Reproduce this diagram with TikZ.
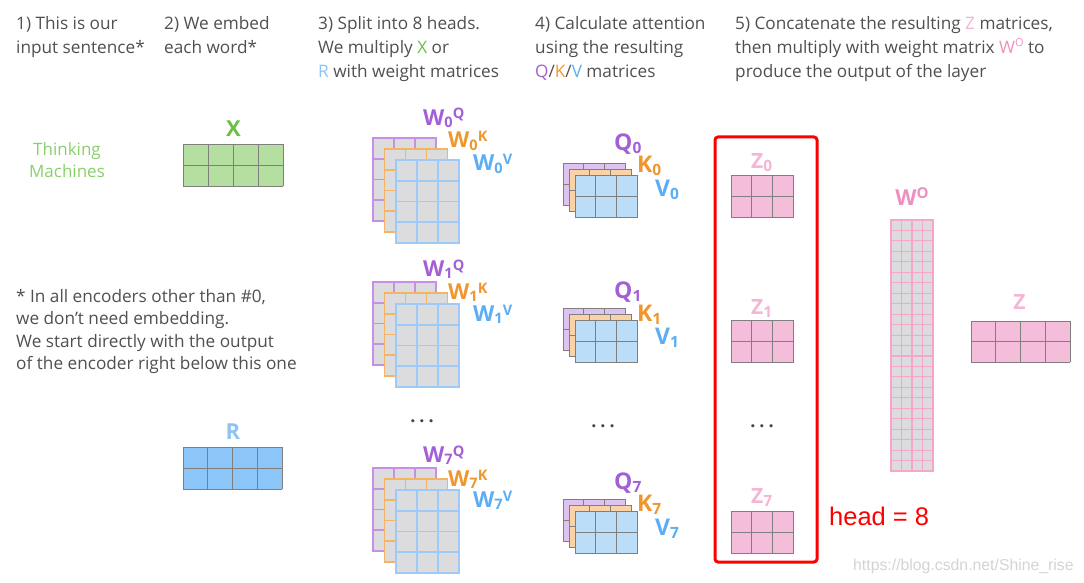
\documentclass[tikz,border=0pt]{standalone}
\usepackage{fontspec}
\setmainfont{Open Sans}
\newfontfamily\libsans{Liberation Sans}
\definecolor{hdrgray}{HTML}{505050}
\definecolor{xgreen}{HTML}{6CBE45}
\definecolor{xfill}{HTML}{B4DFA0}
\definecolor{tgreen}{HTML}{8ACF6C}
\definecolor{rblue}{HTML}{8DC3F5}
\definecolor{rfill}{HTML}{8CC5F7}
\definecolor{wgray}{HTML}{DCDCDE}
\definecolor{wpurple}{HTML}{C790E6}
\definecolor{worange}{HTML}{F5B463}
\definecolor{wblue}{HTML}{9DCBF7}
\definecolor{lpurple}{HTML}{A55FD6}
\definecolor{lorange}{HTML}{F0962E}
\definecolor{lblue}{HTML}{5BAEF5}
\definecolor{qpurple}{HTML}{DDC3F0}
\definecolor{qorange}{HTML}{FBD2A5}
\definecolor{qblue}{HTML}{BCDDF8}
\definecolor{gridgray}{HTML}{7F7F7F}
\definecolor{zfill}{HTML}{F4BEDB}
\definecolor{zlab}{HTML}{F5B5D5}
\definecolor{wolab}{HTML}{EE8FC0}
\definecolor{wopink}{HTML}{F4A6CB}
\definecolor{wmark}{HTML}{D4D4D4}
\definecolor{dotgray}{HTML}{444444}
% x y cols rows cellw cellh fill linecolor linewidth
\newcommand\mtx[9]{%
  \fill[#7] (#1,#2) rectangle ({#1+#3*#5},{#2+#4*#6});
  \foreach \ii in {0,...,#3}{\draw[#8,line width=#9,line cap=rect] ({#1+\ii*#5},#2) -- ({#1+\ii*#5},{#2+#4*#6});}
  \foreach \jj in {0,...,#4}{\draw[#8,line width=#9,line cap=rect] (#1,{#2+\jj*#6}) -- ({#1+#3*#5},{#2+\jj*#6});}
}
\newcommand\wstack[1]{%
  \mtx{373}{138+#1}{3}{4}{21}{20.75}{wgray}{wpurple}{1.8}
  \mtx{384.5}{149+#1}{3}{4}{21}{20.75}{wgray}{worange}{1.8}
  \mtx{396}{160+#1}{3}{4}{21}{20.75}{wgray}{wblue}{1.8}
}
\newcommand\qstack[1]{%
  \mtx{563}{163+#1}{3}{2}{20.7}{21}{qpurple}{gridgray}{0.9}
  \mtx{569}{169+#1}{3}{2}{20.7}{21}{qorange}{gridgray}{0.9}
  \mtx{575}{175+#1}{3}{2}{20.7}{21}{qblue}{gridgray}{0.9}
}
\newcommand\wsub[3]{#1\raisebox{-2pt}{\fontsize{14.5}{14.5}\selectfont #2}\raisebox{6pt}{\fontsize{14.5}{14.5}\selectfont #3}}
\newcommand\qsub[2]{#1\raisebox{-3.5pt}{\fontsize{15.5}{15.5}\selectfont #2}}
\begin{document}
\begin{tikzpicture}[x=1pt,y=-1pt,
  hdr/.style={anchor=base west,inner sep=0,font={\fontsize{17.2}{17.2}\selectfont},text=hdrgray},
  lbl/.style={anchor=base west,inner sep=0,font={\fontsize{22}{22}\selectfont\bfseries}},
  qlbl/.style={anchor=base west,inner sep=0,font={\fontsize{23}{23}\selectfont\bfseries}},
  dots/.style={inner sep=0,font={\fontsize{18}{18}\selectfont\bfseries},text=dotgray}]
\useasboundingbox (0,0) rectangle (1084,583);
\fill[white] (0,0) rectangle (1084,583);

% headers
\node[hdr] (h1a) at (16,29.5) {1) This is our};
\node[hdr] (h1b) at (16,53.5) {input sentence*};
\node[hdr] (h2a) at (164,29.5) {2) We embed};
\node[hdr] (h2b) at (164,53.5) {each word*};
\node[hdr] (h3a) at (318,29.5) {3) Split into 8 heads.};
\node[hdr] (h3b) at (318,53.5) {We multiply {\color{xgreen}X} or};
\node[hdr] (h3c) at (318,77.5) {{\color{rblue}R} with weight matrices};
\node[hdr] (h4a) at (535,29.5) {4) Calculate attention};
\node[hdr] (h4b) at (535,53.5) {using the resulting};
\node[hdr] (h4c) at (535,77.5) {{\color{lpurple}Q}/{\color{lorange}K}/{\color{lblue}V} matrices};
\node[hdr] (h5a) at (735,29.5) {5) Concatenate the resulting {\color{zlab}Z} matrices,};
\node[hdr] (h5b) at (735,53.5) {then multiply with weight matrix {\color{wolab}W\raisebox{0.42em}{\fontsize{11}{11}\selectfont O}} to};
\node[hdr] (h5c) at (735,77.5) {produce the output of the layer};

% footnote
\node[hdr] (f1) at (16,302) {* In all encoders other than \#0,};
\node[hdr] (f2) at (16,324.5) {we don’t need embedding.};
\node[hdr] (f3) at (16,347) {We start directly with the output};
\node[hdr] (f4) at (16,369.5) {of the encoder right below this one};

% input sentence
\node[anchor=base,inner sep=0,font={\fontsize{17}{17}\selectfont},text=tgreen] (think) at (67,156) {Thinking};
\node[anchor=base,inner sep=0,font={\fontsize{17}{17}\selectfont},text=tgreen] (mach) at (67,177) {Machines};

% X and R
\mtx{183}{144}{4}{2}{25}{21}{xfill}{gridgray}{0.9}
\node[lbl,anchor=base,text=xgreen] (xl) at (233.5,137) {X};
\mtx{183}{447}{4}{2}{24.75}{21}{rfill}{gridgray}{0.9}
\node[lbl,anchor=base,text=rblue] (rl) at (233,439) {R};

% W stacks
\wstack{0}
\wstack{144}
\wstack{330}
\node[lbl,text=lpurple] (w0q) at (423,125) {\wsub{W}{0}{Q}};
\node[lbl,text=lorange] (w0k) at (448,148) {\wsub{W}{0}{K}};
\node[lbl,text=lblue] (w0v) at (473,171) {\wsub{W}{0}{V}};
\node[lbl,text=lpurple] (w1q) at (423,276) {\wsub{W}{1}{Q}};
\node[lbl,text=lorange] (w1k) at (448,299) {\wsub{W}{1}{K}};
\node[lbl,text=lblue] (w1v) at (473,321) {\wsub{W}{1}{V}};
\node[lbl,text=lpurple] (w7q) at (423,462) {\wsub{W}{7}{Q}};
\node[lbl,text=lorange] (w7k) at (448,486) {\wsub{W}{7}{K}};
\node[lbl,text=lblue] (w7v) at (473,507) {\wsub{W}{7}{V}};
\node[dots] (wdots) at (422,421) {.\hspace{4pt}.\hspace{4pt}.};

% Q K V stacks
\qstack{0}
\qstack{145}
\qstack{336}
\node[qlbl,text=lpurple] (q0) at (614,150) {\qsub{Q}{0}};
\node[qlbl,text=lorange] (k0) at (637,172) {\qsub{K}{0}};
\node[qlbl,text=lblue] (v0) at (655,196) {\qsub{V}{0}};
\node[qlbl,text=lpurple] (q1) at (614,298) {\qsub{Q}{1}};
\node[qlbl,text=lorange] (k1) at (637,321) {\qsub{K}{1}};
\node[qlbl,text=lblue] (v1) at (655,344) {\qsub{V}{1}};
\node[qlbl,text=lpurple] (q7) at (614,489) {\qsub{Q}{7}};
\node[qlbl,text=lorange] (k7) at (637,511) {\qsub{K}{7}};
\node[qlbl,text=lblue] (v7) at (655,535) {\qsub{V}{7}};
\node[dots] (qdots) at (603,426) {.\hspace{4pt}.\hspace{4pt}.};

% Z matrices
\mtx{731}{175}{3}{2}{20.7}{21}{zfill}{gridgray}{0.9}
\mtx{731}{320}{3}{2}{20.7}{21}{zfill}{gridgray}{0.9}
\mtx{731}{511}{3}{2}{20.7}{21}{zfill}{gridgray}{0.9}
\node[lbl,font={\fontsize{21}{21}\selectfont\bfseries},text=zlab] (z0) at (751,168) {\qsub{Z}{0}};
\node[lbl,font={\fontsize{21}{21}\selectfont\bfseries},text=zlab] (z1) at (751,314) {\qsub{Z}{1}};
\node[lbl,font={\fontsize{21}{21}\selectfont\bfseries},text=zlab] (z7) at (751,503) {\qsub{Z}{7}};
\node[dots] (zdots) at (762,426) {.\hspace{4pt}.\hspace{4pt}.};

% red box
\node[draw=red,line width=3pt,rounded corners=3pt,minimum width=102pt,minimum height=425pt,inner sep=0] (redbox) at (766,349.5) {};
\node[anchor=base west,inner sep=0,font={\libsans\fontsize{25.5}{25.5}\selectfont},text=red] (head) at (829,525) {head = 8};

% W^O
\mtx{891}{220}{4}{24}{10.5}{10.46}{wgray}{wopink}{1.1}
\node[lbl,anchor=base,text=wolab] (wo) at (912,205) {W\raisebox{7pt}{\fontsize{15}{15}\selectfont O}};

% Z final
\mtx{971}{321}{4}{2}{24.75}{20.5}{zfill}{gridgray}{0.9}
\node[lbl,font={\fontsize{21}{21}\selectfont\bfseries},anchor=base,text=zlab] (zf) at (1019.5,309) {Z};

% watermark
\node[anchor=base west,inner sep=0,font={\libsans\fontsize{15.8}{15.8}\selectfont},text=wmark] (wm) at (853,570) {https://blog.csdn.net/Shine\_rise};
\end{tikzpicture}
\end{document}
